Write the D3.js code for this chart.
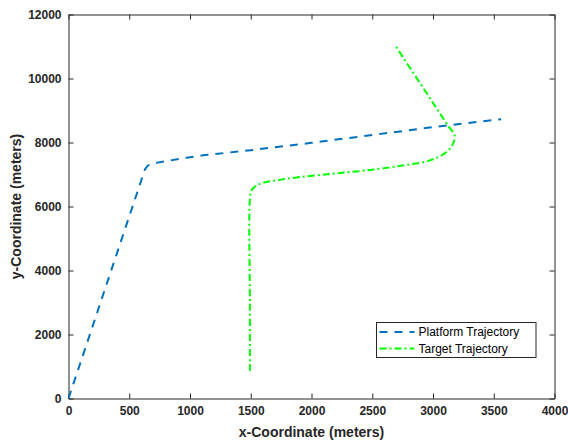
<!DOCTYPE html>
<html>
<head>
<meta charset="utf-8">
<script src="https://cdn.jsdelivr.net/npm/d3@7"></script>
<style>
  body { margin: 0; background: #fff; }
  svg { font-family: "Liberation Sans", Arial, sans-serif; }
  .tick text { font-weight: bold; font-size: 12px; fill: #262626; }
  .axis-label { font-weight: bold; font-size: 14px; fill: #262626; }
  .legend text { font-size: 12px; fill: #000; }
</style>
</head>
<body>
<div id="chart"></div>
<script>
// tick values
var xTicks = [0, 500, 1000, 1500, 2000, 2500, 3000, 3500, 4000];
var yTicks = [0, 2000, 4000, 6000, 8000, 10000, 12000];

// platform trajectory (meters)
var platformX = [0, 629, 650, 672, 700, 972, 1122, 1500, 2000, 2644, 3000, 3560];
var platformY = [0, 7160, 7265, 7320, 7350, 7525, 7606, 7760, 7990, 8304, 8480, 8730];

// target trajectory (meters)
var targetX = [1493, 1493, 1495, 1510, 1545, 1600, 1712, 1904, 2176, 2452, 2753, 2973, 3110, 3165, 3178, 3123, 2685];
var targetY = [863, 3000, 6300, 6520, 6650, 6740, 6817, 6920, 7026, 7129, 7285, 7441, 7700, 7961, 8220, 8532, 11057];

var margin = {top: 14.5, right: 13.5, bottom: 44.5, left: 68.5},
    width = 568 - margin.left - margin.right,
    height = 443 - margin.top - margin.bottom;

var x = d3.scaleLinear().domain([0, 4000]).range([0, width]);
var y = d3.scaleLinear().domain([0, 12000]).range([height, 0]);

var svg = d3.select("#chart").append("svg")
    .attr("width", 568)
    .attr("height", 443)
    .append("g")
    .attr("transform", "translate(" + margin.left + "," + margin.top + ")");

var line = d3.line()
    .x(function(d) { return x(d[0]); })
    .y(function(d) { return y(d[1]); })
    .curve(d3.curveCatmullRom);

var platform = platformX.map(function(v, i) { return [v, platformY[i]]; });
var target = targetX.map(function(v, i) { return [v, targetY[i]]; });

// axes (ticks inward, box)
function styleAxis(g) {
  g.select(".domain").attr("stroke", "#262626");
  g.selectAll(".tick line").attr("stroke", "#262626");
}

svg.append("g")
    .attr("transform", "translate(0," + height + ")")
    .call(d3.axisBottom(x).tickValues(xTicks).tickSize(-5).tickSizeOuter(0).tickPadding(8).tickFormat(d3.format("d")))
    .call(styleAxis);

svg.append("g")
    .call(d3.axisTop(x).tickValues(xTicks).tickSize(-5).tickSizeOuter(0).tickFormat(""))
    .call(styleAxis);

svg.append("g")
    .call(d3.axisLeft(y).tickValues(yTicks).tickSize(-5).tickSizeOuter(0).tickPadding(7).tickFormat(d3.format("d")))
    .call(styleAxis);

svg.append("g")
    .attr("transform", "translate(" + width + ",0)")
    .call(d3.axisRight(y).tickValues(yTicks).tickSize(-5).tickSizeOuter(0).tickFormat(""))
    .call(styleAxis);

svg.selectAll(".tick text").attr("font-family", null).attr("font-size", null);

// lines
svg.append("path")
    .datum(platform)
    .attr("fill", "none")
    .attr("stroke", "#0072BD")
    .attr("stroke-width", 2)
    .attr("stroke-dasharray", "8,7")
    .attr("d", line.curve(d3.curveLinear));

svg.append("path")
    .datum(target)
    .attr("fill", "none")
    .attr("stroke", "#00FF00")
    .attr("stroke-width", 2)
    .attr("stroke-dasharray", "7,3,2,3")
    .attr("d", line.curve(d3.curveCatmullRom));

// axis labels
svg.append("text")
    .attr("class", "axis-label")
    .attr("x", width / 2)
    .attr("y", height + 38)
    .attr("text-anchor", "middle")
    .text("x-Coordinate (meters)");

svg.append("text")
    .attr("class", "axis-label")
    .attr("transform", "rotate(-90)")
    .attr("x", -height / 2)
    .attr("y", -48)
    .attr("text-anchor", "middle")
    .text("y-Coordinate (meters)");

// legend
var legend = svg.append("g")
    .attr("class", "legend")
    .attr("transform", "translate(" + (376.5 - margin.left) + "," + (322.5 - margin.top) + ")");

legend.append("rect")
    .attr("width", 159.5)
    .attr("height", 35)
    .attr("fill", "#fff")
    .attr("stroke", "#262626")
    .attr("stroke-width", 1);

var entries = [
  {name: "Platform Trajectory", color: "#0072BD", dash: "8,7"},
  {name: "Target Trajectory", color: "#00FF00", dash: "7,3,2,3"}
];

entries.forEach(function(e, i) {
  var cy = 9.5 + i * 16.5;
  legend.append("line")
      .attr("x1", 3).attr("x2", 38)
      .attr("y1", cy).attr("y2", cy)
      .attr("stroke", e.color)
      .attr("stroke-width", 2)
      .attr("stroke-dasharray", e.dash);
  legend.append("text")
      .attr("x", 42)
      .attr("y", cy)
      .attr("dy", "0.35em")
      .text(e.name);
});
</script>
</body>
</html>
